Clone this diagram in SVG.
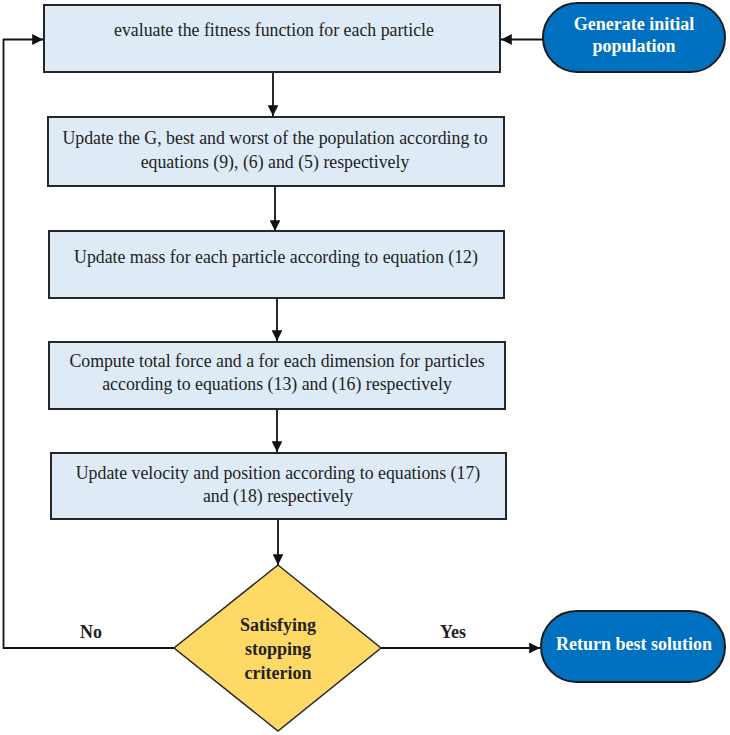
<svg xmlns="http://www.w3.org/2000/svg" width="730" height="735" viewBox="0 0 730 735">
<style>
.box{fill:#deebf7;stroke:#262626;stroke-width:2}
.pill{fill:#0070c0;stroke:#1a1a1a;stroke-width:2}
.dia{fill:#ffd966;stroke:#262626;stroke-width:1.5}
.t{font-family:"Liberation Serif","DejaVu Serif",serif;font-size:17.8px;fill:#222;text-anchor:middle}
.w{font-family:"Liberation Serif","DejaVu Serif",serif;font-size:18px;font-weight:bold;fill:#fff;text-anchor:middle}
.b{font-family:"Liberation Serif","DejaVu Serif",serif;font-size:18px;font-weight:bold;fill:#222;text-anchor:middle}
.c{fill:none;stroke:#111;stroke-width:1.8}
</style>
<defs>
<marker id="ah" viewBox="0 0 10 10" refX="10" refY="5" markerWidth="6" markerHeight="6" markerUnits="strokeWidth" orient="auto">
<path d="M0,0 L10,5 L0,10 z" fill="#111"/>
</marker>
</defs>
<g id="connectors">
<line class="c" x1="543" y1="39.5" x2="501" y2="39.5" marker-end="url(#ah)"/>
<line class="c" x1="273" y1="72" x2="273" y2="116" marker-end="url(#ah)"/>
<line class="c" x1="275" y1="186" x2="275" y2="231" marker-end="url(#ah)"/>
<line class="c" x1="277" y1="298" x2="277" y2="341" marker-end="url(#ah)"/>
<line class="c" x1="277" y1="409" x2="277" y2="452" marker-end="url(#ah)"/>
<line class="c" x1="278" y1="519" x2="278" y2="565" marker-end="url(#ah)"/>
<polyline class="c" points="174,648 3.5,648 3.5,39.5 43,39.5" marker-end="url(#ah)"/>
<line class="c" x1="381" y1="648" x2="540" y2="648" marker-end="url(#ah)"/>
<text class="b" x="91" y="638">No</text>
<text class="b" x="453" y="638">Yes</text>
</g>
<g id="generate">
<rect class="pill" x="543" y="3" width="182" height="69" rx="34.5"/>
<text class="w" x="634" y="30">Generate initial</text>
<text class="w" x="634" y="52">population</text>
</g>
<g id="evaluate">
<rect class="box" x="44" y="5" width="456" height="67"/>
<text class="t" x="274" y="36">evaluate the fitness function for each particle</text>
</g>
<g id="updateG">
<rect class="box" x="48" y="117" width="456" height="69"/>
<text class="t" x="275" y="144">Update the G, best and worst of the population according to</text>
<text class="t" x="275" y="168">equations (9), (6) and (5) respectively</text>
</g>
<g id="updateMass">
<rect class="box" x="49" y="231" width="455" height="67"/>
<text class="t" x="276" y="263">Update mass for each particle according to equation (12)</text>
</g>
<g id="computeForce">
<rect class="box" x="49" y="342" width="456" height="67"/>
<text class="t" x="277" y="367">Compute total force and a for each dimension for particles</text>
<text class="t" x="277" y="390">according to equations (13) and (16) respectively</text>
</g>
<g id="updateVelocity">
<rect class="box" x="51" y="453" width="455" height="66"/>
<text class="t" x="278" y="479">Update velocity and position according to equations (17)</text>
<text class="t" x="278" y="502">and (18) respectively</text>
</g>
<g id="stopping">
<polygon class="dia" points="278,565 381,648 278,731 174,648"/>
<text class="b" x="278" y="631">Satisfying</text>
<text class="b" x="278" y="655">stopping</text>
<text class="b" x="278" y="679">criterion</text>
</g>
<g id="returnBest">
<rect class="pill" x="541" y="611" width="184" height="71" rx="35.5"/>
<text class="w" x="634" y="650">Return best solution</text>
</g>
</svg>
